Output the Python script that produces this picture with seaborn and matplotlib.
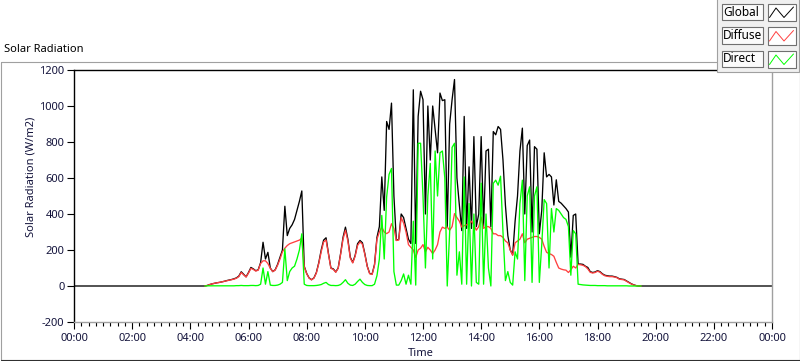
import numpy as np
import pandas as pd
import matplotlib
matplotlib.use("Agg")
import matplotlib.pyplot as plt
import seaborn as sns
from matplotlib.patches import Rectangle

# ---------------- data (W/m2, 5-minute samples from 04:30 to 19:30) ----------------
start_hour = 4.5
step_minutes = 5

global_wm2 = [
    0, 3, 8, 12, 15, 18, 20, 23, 26, 30, 33, 36,
    40, 45, 55, 79, 65, 51, 75, 103, 95, 85, 90, 130,
    243, 150, 187, 100, 80, 90, 120, 160, 200, 443, 280, 320,
    340, 370, 420, 470, 528, 110, 70, 45, 35, 45, 75, 130,
    200, 255, 268, 180, 100, 95, 78, 100, 180, 270, 327, 260,
    160, 131, 170, 235, 253, 240, 180, 110, 70, 66, 120, 270,
    330, 606, 420, 914, 870, 1016, 500, 253, 260, 400, 380, 320,
    260, 236, 1090, 236, 942, 1082, 1035, 400, 1000, 700, 1000, 867,
    740, 1072, 1030, 1035, 327, 900, 1035, 1147, 600, 450, 308, 942,
    320, 662, 320, 830, 330, 400, 830, 330, 750, 760, 330, 858,
    840, 886, 870, 700, 450, 280, 200, 175, 360, 500, 750, 877,
    400, 780, 811, 300, 774, 760, 290, 420, 740, 606, 620, 606,
    450, 590, 470, 460, 445, 430, 411, 160, 392, 400, 122, 122,
    120, 110, 103, 80, 75, 78, 85, 80, 68, 60, 57, 55,
    55, 52, 48, 40, 38, 36, 28, 20, 12, 6, 2, 0,
    0,
]
diffuse_wm2 = [
    0, 3, 8, 12, 15, 18, 20, 23, 26, 29, 32, 35,
    38, 43, 52, 75, 62, 50, 72, 98, 92, 83, 88, 125,
    140, 140, 125, 98, 80, 88, 115, 150, 190, 210, 225, 235,
    240, 245, 250, 255, 265, 105, 68, 44, 34, 44, 72, 125,
    190, 245, 255, 175, 98, 92, 76, 98, 175, 260, 310, 250,
    155, 128, 165, 225, 245, 232, 175, 108, 68, 64, 115, 260,
    300, 327, 300, 291, 300, 346, 320, 253, 255, 380, 350, 300,
    230, 215, 200, 159, 200, 210, 230, 190, 215, 200, 180, 200,
    230, 300, 327, 320, 327, 310, 330, 402, 380, 360, 327, 335,
    340, 345, 360, 340, 310, 330, 383, 320, 330, 330, 320, 290,
    290, 280, 280, 270, 250, 240, 200, 170, 240, 250, 260, 290,
    240, 260, 265, 270, 275, 275, 270, 260, 220, 187, 180, 175,
    165, 131, 100, 94, 90, 88, 75, 90, 110, 100, 120, 118,
    115, 108, 95, 76, 72, 75, 82, 77, 65, 57, 54, 52,
    52, 50, 46, 38, 36, 34, 26, 18, 11, 5, 2, 0,
    0,
]
direct_wm2 = [
    0, 1, 1, 1, 1, 1, 1, 1, 1, 1, 1, 1,
    1, 2, 2, 3, 2, 2, 2, 3, 3, 2, 3, 10,
    100, 10, 80, 5, 3, 3, 5, 10, 20, 206, 30, 80,
    100, 110, 150, 200, 290, 10, 3, 2, 2, 2, 3, 5,
    8, 15, 20, 8, 3, 3, 2, 3, 8, 20, 35, 15,
    5, 3, 10, 25, 38, 20, 8, 3, 2, 2, 10, 57,
    150, 392, 150, 495, 620, 653, 80, 5, 5, 30, 67, 10,
    60, 10, 360, 5, 793, 793, 500, 100, 500, 681, 150, 750,
    500, 740, 750, 600, 0, 300, 770, 793, 60, 190, 10, 606,
    10, 458, 0, 400, 20, 10, 571, 10, 400, 100, 0, 570,
    588, 560, 610, 300, 30, 80, 20, 5, 190, 150, 458, 588,
    30, 500, 551, 20, 500, 551, 20, 230, 480, 458, 100, 430,
    300, 430, 420, 400, 380, 370, 330, 60, 308, 290, 10, 8,
    6, 5, 4, 3, 3, 3, 2, 2, 2, 2, 1, 1,
    1, 1, 1, 1, 1, 1, 1, 0, 0, 0, 0, 0,
    0,
]
# Global radiation is logged for the whole day: zero at night
night_hours = [0.0, 24.0]
night_wm2 = [0, 0]

series_names = ["Global", "Diffuse", "Direct"]
series_colors = ["#000000", "#ff4040", "#00ff00"]
xtick_hours = [0, 2, 4, 6, 8, 10, 12, 14, 16, 18, 20, 22, 24]
xtick_labels = ["00:00", "02:00", "04:00", "06:00", "08:00", "10:00", "12:00",
                "14:00", "16:00", "18:00", "20:00", "22:00", "00:00"]
ytick_values = [-200, 0, 200, 400, 600, 800, 1000, 1200]

# ---------------- frames ----------------
day_hours = start_hour + np.arange(len(global_wm2)) * step_minutes / 60.0
df_global = pd.DataFrame({
    "hour": np.concatenate([[night_hours[0]], day_hours, [night_hours[1]]]),
    "value": np.concatenate([[night_wm2[0]], global_wm2, [night_wm2[1]]]),
})
df_diffuse = pd.DataFrame({"hour": day_hours, "value": diffuse_wm2})
df_direct = pd.DataFrame({"hour": day_hours, "value": direct_wm2})

# ---------------- style ----------------
sns.set_theme(style="white")
plt.rcParams["font.family"] = ["Noto Sans", "DejaVu Sans"]
TXT = "#14143c"
FS = 8

W, H = 800, 361
fig = plt.figure(figsize=(W / 100, H / 100), dpi=100)
fig.patch.set_facecolor("white")

L, R, T, B = 74, 772, 70, 322
ax = fig.add_axes([L / W, 1 - B / H, (R - L) / W, (B - T) / H])
ax.set_facecolor("white")

for df, col in zip([df_global, df_diffuse, df_direct], series_colors):
    sns.lineplot(data=df, x="hour", y="value", color=col, lw=0.95,
                 estimator=None, sort=False, ax=ax, legend=False)

ax.set_xlim(0, 24)
ax.set_ylim(-200, 1200)
ax.set_xticks(xtick_hours)
ax.set_xticklabels(xtick_labels)
ax.set_xticks(np.arange(0, 24.01, 0.25), minor=True)
ax.set_yticks(ytick_values)
ax.set_yticklabels([str(v) for v in ytick_values])
ax.set_xlabel("")
ax.set_ylabel("")
ax.tick_params(axis="x", which="major", direction="out", length=5, width=0.8,
               color="black", pad=3, labelsize=FS, labelcolor=TXT, bottom=True)
ax.tick_params(axis="x", which="minor", direction="out", length=3, width=0.8,
               color="black", bottom=True)
ax.tick_params(axis="y", which="major", direction="out", length=5, width=0.8,
               color="black", pad=2, labelsize=FS, labelcolor=TXT, left=True)
ax.grid(False)
for side, col in [("top", "black"), ("left", "black"), ("right", "#a0a0a0"), ("bottom", "#a0a0a0")]:
    ax.spines[side].set_visible(True)
    ax.spines[side].set_color(col)
    ax.spines[side].set_linewidth(1.0)

# ---------------- overlay (pixel coordinates) for frame, titles, legend ----------------
ov = fig.add_axes([0, 0, 1, 1])
ov.set_xlim(0, W)
ov.set_ylim(H, 0)
ov.axis("off")
ov.set_zorder(10)

# outer frame
ov.plot([0.5, 0.5], [61.5, 359.5], color="#a0a0a0", lw=0.8)
ov.plot([0.5, 717], [61.5, 61.5], color="#a0a0a0", lw=0.8)
ov.plot([0.5, 799.5], [359.5, 359.5], color="#303030", lw=0.8)
ov.plot([799.5, 799.5], [72, 359.5], color="#606060", lw=0.8)

ov.text(4, 50, "Solar Radiation", fontsize=FS, color="black", ha="left", va="center")
ov.text(31, 177, "Solar Radiation (W/m2)", fontsize=FS, color=TXT, rotation=90,
        ha="center", va="center")
ov.text(421, 353, "Time", fontsize=FS, color=TXT, ha="center", va="center")

# legend panel
ov.add_patch(Rectangle((717, -2), 82, 74, facecolor="#f0f0f0", edgecolor="#a0a0a0", lw=0.8))
row_tops = [3.5, 27, 50.5]
for name, col, top in zip(series_names, series_colors, row_tops):
    ov.add_patch(Rectangle((721.5, top), 41, 16.5, facecolor="#fbfbfb",
                           edgecolor="#707070", lw=0.8))
    ov.text(723, top + 8.5, name, fontsize=8.5, color="black", ha="left", va="center")
    ov.add_patch(Rectangle((767.5, top), 28.5, 17.5, facecolor="white",
                           edgecolor="#707070", lw=0.8))
    ov.plot([769.5, 776, 784, 793.5], [top + 14, top + 4.5, top + 14, top + 3.5],
            color=col, lw=0.7)

fig.savefig("out.png", dpi=100)
